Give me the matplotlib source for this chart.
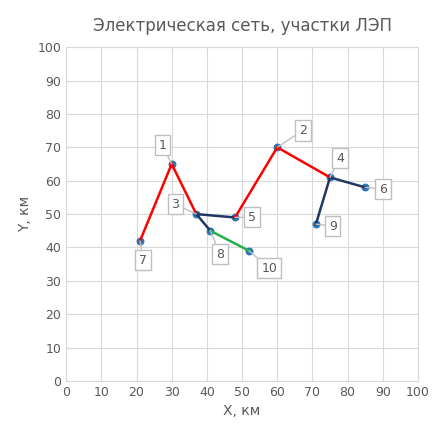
import matplotlib.pyplot as plt

ids = [1, 2, 3, 4, 5, 6, 7, 8, 9, 10]
xs = [30, 60, 37, 75, 48, 85, 21, 41, 71, 52]
ys = [65, 70, 50, 61, 49, 58, 42, 45, 47, 39]
label_x = [27.3, 67.3, 31.0, 77.8, 52.8, 90.1, 21.9, 43.8, 75.8, 57.7]
label_y = [70.7, 75.1, 53.0, 66.8, 49.1, 57.5, 36.2, 38.0, 46.4, 33.8]

# участки: (от, до, цвет)
segments = [(7, 1, "red"), (1, 3, "red"), (3, 5, "#1F3864"), (5, 2, "red"),
            (2, 4, "red"), (4, 6, "#1F3864"), (4, 9, "#1F3864"),
            (3, 8, "#1F3864"), (8, 10, "#22B04C")]

pos = {i: (x, y) for i, x, y in zip(ids, xs, ys)}

fig, ax = plt.subplots(figsize=(4.47, 4.41), dpi=100)
fig.subplots_adjust(left=0.148, right=0.935, bottom=0.136, top=0.893)

ax.scatter(xs, ys, s=22, color="#2E75B6", zorder=3)
for a, b, c in segments:
    ax.plot([pos[a][0], pos[b][0]], [pos[a][1], pos[b][1]], color=c, lw=1.8, zorder=4)

for i, x, y, lx, ly in zip(ids, xs, ys, label_x, label_y):
    ax.annotate(str(i), xy=(x, y), xytext=(lx, ly), ha="center", va="center",
                fontsize=9, color="#595959", zorder=5,
                bbox=dict(boxstyle="square,pad=0.3", fc="white", ec="#BFBFBF"),
                arrowprops=dict(arrowstyle="-", color="#BFBFBF", lw=1,
                                shrinkA=0, shrinkB=0))

ax.set_xlim(0, 100)
ax.set_ylim(0, 100)
ax.set_xticks(range(0, 101, 10))
ax.set_yticks(range(0, 101, 10))
ax.grid(True, color="#D9D9D9", lw=0.8)
ax.set_axisbelow(True)
for s in ax.spines.values():
    s.set_color("#D9D9D9")
ax.tick_params(colors="#595959", labelsize=9, length=0)
ax.set_xlabel("X, км", color="#595959", fontsize=10)
ax.set_ylabel("Y, км", color="#595959", fontsize=10)
ax.set_title("Электрическая сеть, участки ЛЭП", color="#595959", fontsize=12, pad=12)

fig.savefig("out.png")
